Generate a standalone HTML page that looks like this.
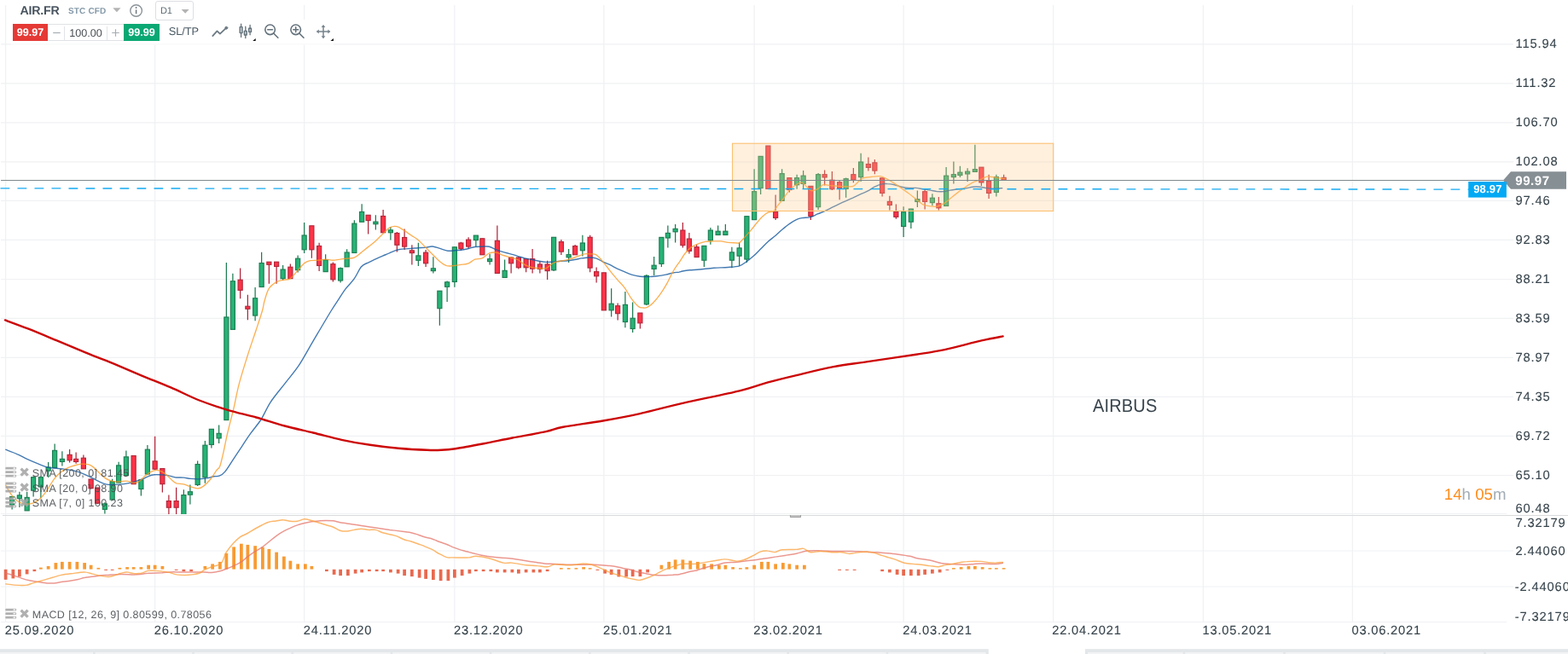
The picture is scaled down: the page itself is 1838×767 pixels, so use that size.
<!DOCTYPE html>
<html lang="en">
<head>
<meta charset="utf-8">
<title>AIR.FR chart</title>
<style>
html,body{margin:0;padding:0;background:#fff;}
body{width:1838px;height:767px;overflow:hidden;position:relative;font-family:"Liberation Sans",Arial,sans-serif;text-rendering:geometricPrecision;}
svg text{text-rendering:geometricPrecision;}
svg.chart{position:absolute;left:0;top:0;display:block;}
.tb{position:absolute;left:13px;top:0;width:378px;height:51px;}
.tb .bg1{position:absolute;left:0;top:0;width:214px;height:24px;background:#fff;}
.tb .bg2{position:absolute;left:0;top:23px;width:378px;height:27.5px;background:#fff;}
.tb .bg3{position:absolute;left:0;top:50.5px;width:378px;height:2.5px;background:rgba(255,255,255,0.55);}
.tb *{box-sizing:border-box;}
.sym{position:absolute;left:10.6px;top:4.9px;font-weight:bold;font-size:14.2px;line-height:16px;color:#48545f;letter-spacing:-0.25px;white-space:nowrap;}
.typ{position:absolute;left:67px;top:7.5px;font-weight:bold;font-size:10px;line-height:12px;color:#8499a9;letter-spacing:0.15px;white-space:nowrap;}
.per{position:absolute;left:169px;top:1px;width:45px;height:23px;border:1px solid #dcdfe2;border-radius:3px;background:#fff;}
.per span{position:absolute;left:5px;top:4.6px;font-size:11px;line-height:13px;color:#5a6872;white-space:nowrap;letter-spacing:-0.3px;}
.sell,.buy{position:absolute;top:28px;height:20px;width:41px;color:#fff;font-weight:bold;font-size:12.6px;line-height:20px;text-align:center;white-space:nowrap;}
.sell{left:2px;background:#e53935;}
.buy{left:132px;width:42px;background:#0aa873;}
.vol{position:absolute;left:43px;top:28px;width:89px;height:20px;border-top:1px solid #dfe2e5;border-bottom:1px solid #dfe2e5;background:#fff;}
.vol .m,.vol .p{position:absolute;top:0;height:18px;width:20px;}
.vol .m{left:0;}
.vol .m:after,.vol .p:after{content:'';position:absolute;top:1.5px;bottom:0;width:1px;background:#e1e4e7;}
.vol .m:after{right:0;}
.vol .p:after{left:0;}
.vol .p{right:0;}
.vol .v{position:absolute;left:20px;right:20px;top:0;height:18px;font-size:12.6px;line-height:20px;text-align:center;color:#4a4f54;white-space:nowrap;}
.sltp{position:absolute;left:184.8px;top:28.6px;font-size:12.8px;line-height:15px;color:#4a5963;white-space:nowrap;letter-spacing:-0.1px;}
.ico{position:absolute;left:0;top:0;}
</style>
</head>
<body>
<svg class="chart" width="1838" height="767" viewBox="0 0 1838 767">
<defs><clipPath id="cm"><rect x="0" y="6" width="1838" height="597"/></clipPath><clipPath id="cd"><rect x="0" y="605" width="1838" height="125"/></clipPath></defs>
<g stroke="#f0f1f4" stroke-width="1.2" fill="none" shape-rendering="auto">
<line x1="6.625" y1="6" x2="6.625" y2="730" stroke-width="1.25"/>
<line x1="181.625" y1="6" x2="181.625" y2="730" stroke-width="1.25"/>
<line x1="356.625" y1="6" x2="356.625" y2="730" stroke-width="1.25"/>
<line x1="532.875" y1="6" x2="532.875" y2="730" stroke-width="1.25"/>
<line x1="707.875" y1="6" x2="707.875" y2="730" stroke-width="1.25"/>
<line x1="884.125" y1="6" x2="884.125" y2="730" stroke-width="1.25"/>
<line x1="1059.125" y1="6" x2="1059.125" y2="730" stroke-width="1.25"/>
<line x1="1234.700" y1="6" x2="1234.700" y2="730" stroke-width="1.25"/>
<line x1="1410.375" y1="6" x2="1410.375" y2="730" stroke-width="1.25"/>
<line x1="1585.375" y1="6" x2="1585.375" y2="730" stroke-width="1.25"/>
<line x1="1" y1="51.9" x2="1774" y2="51.9" stroke-width="1.15"/>
<line x1="1" y1="97.9" x2="1774" y2="97.9" stroke-width="1.15"/>
<line x1="1" y1="143.9" x2="1774" y2="143.9" stroke-width="1.15"/>
<line x1="1" y1="189.9" x2="1774" y2="189.9" stroke-width="1.15"/>
<line x1="1" y1="235.4" x2="1774" y2="235.4" stroke-width="1.15"/>
<line x1="1" y1="281.4" x2="1774" y2="281.4" stroke-width="1.15"/>
<line x1="1" y1="327.5" x2="1774" y2="327.5" stroke-width="1.15"/>
<line x1="1" y1="373.4" x2="1774" y2="373.4" stroke-width="1.15"/>
<line x1="1" y1="419.3" x2="1774" y2="419.3" stroke-width="1.15"/>
<line x1="1" y1="465.3" x2="1774" y2="465.3" stroke-width="1.15"/>
<line x1="1" y1="511.3" x2="1774" y2="511.3" stroke-width="1.15"/>
<line x1="1" y1="557.5" x2="1774" y2="557.5" stroke-width="1.15"/>
<line x1="1" y1="602.4" x2="1766.5" y2="602.4" stroke-width="1"/>
<line x1="1" y1="646" x2="1774" y2="646" stroke-width="1.05"/>
<line x1="1" y1="688" x2="1774" y2="688" stroke-width="1.05"/>
<line x1="1" y1="729.5" x2="1766.2" y2="729.5" stroke-width="1.05"/>
</g>
<line x1="3" y1="604.5" x2="1838" y2="604.5" stroke="#dadbdc" stroke-width="1"/>
<rect x="926.1" y="604" width="12.75" height="2.8" fill="#c2c2c2"/>
<path d="M926.4 604V606.5H938.55V604" fill="none" stroke="#8c8c8c" stroke-width="0.7"/>
<g clip-path="url(#cm)">
<path d="M14.125 581.8V597.6" stroke="#1d7d52" stroke-width="1.25" fill="none"/>
<rect x="11.575" y="582.57" width="5.1" height="9.61" fill="#27b376" stroke="#1d7d52" stroke-width="1.15"/>
<path d="M22.875 576.8V595.1" stroke="#1d7d52" stroke-width="1.25" fill="none"/>
<rect x="20.325" y="580.90" width="5.1" height="3.77" fill="#27b376" stroke="#1d7d52" stroke-width="1.15"/>
<path d="M31.625 577.1V598.8" stroke="#1d7d52" stroke-width="1.25" fill="none"/>
<rect x="29.075" y="583.40" width="5.1" height="15.45" fill="#27b376" stroke="#1d7d52" stroke-width="1.15"/>
<path d="M39.125 558.4V582.6" stroke="#1d7d52" stroke-width="1.25" fill="none"/>
<rect x="36.575" y="559.71" width="5.1" height="15.45" fill="#27b376" stroke="#1d7d52" stroke-width="1.15"/>
<path d="M47.875 558.4V584.3" stroke="#1d7d52" stroke-width="1.25" fill="none"/>
<rect x="45.325" y="559.71" width="5.1" height="11.28" fill="#27b376" stroke="#1d7d52" stroke-width="1.15"/>
<path d="M56.625 542.1V560.1" stroke="#1d7d52" stroke-width="1.25" fill="none"/>
<rect x="54.075" y="548.03" width="5.1" height="4.10" fill="#27b376" stroke="#1d7d52" stroke-width="1.15"/>
<path d="M64.125 520.5V548.4" stroke="#1d7d52" stroke-width="1.25" fill="none"/>
<rect x="61.575" y="528.34" width="5.1" height="20.12" fill="#27b376" stroke="#1d7d52" stroke-width="1.15"/>
<path d="M72.875 529.2V546.4" stroke="#1d7d52" stroke-width="1.25" fill="none"/>
<rect x="70.325" y="538.35" width="5.1" height="3.10" fill="#27b376" stroke="#1d7d52" stroke-width="1.15"/>
<path d="M81.625 527.1V542.6" stroke="#b2263a" stroke-width="1.25" fill="none"/>
<rect x="79.075" y="533.35" width="5.1" height="6.44" fill="#ff3347" stroke="#b2263a" stroke-width="1.15"/>
<path d="M89.125 530.6V543.7" stroke="#b2263a" stroke-width="1.25" fill="none"/>
<rect x="86.575" y="538.35" width="5.1" height="3.10" fill="#ff3347" stroke="#b2263a" stroke-width="1.15"/>
<path d="M97.875 533.4V549.7" stroke="#b2263a" stroke-width="1.25" fill="none"/>
<rect x="95.325" y="537.18" width="5.1" height="12.61" fill="#ff3347" stroke="#b2263a" stroke-width="1.15"/>
<path d="M106.625 561.8V573.4" stroke="#b2263a" stroke-width="1.25" fill="none"/>
<rect x="104.075" y="562.05" width="5.1" height="10.61" fill="#ff3347" stroke="#b2263a" stroke-width="1.15"/>
<path d="M114.125 571.8V591" stroke="#b2263a" stroke-width="1.25" fill="none"/>
<rect x="111.575" y="572.06" width="5.1" height="18.12" fill="#ff3347" stroke="#b2263a" stroke-width="1.15"/>
<path d="M122.875 589.3V602.6" stroke="#1d7d52" stroke-width="1.25" fill="none"/>
<rect x="120.325" y="590.91" width="5.1" height="6.44" fill="#27b376" stroke="#1d7d52" stroke-width="1.15"/>
<path d="M131.625 561.8V586.8" stroke="#1d7d52" stroke-width="1.25" fill="none"/>
<rect x="129.075" y="564.72" width="5.1" height="21.29" fill="#27b376" stroke="#1d7d52" stroke-width="1.15"/>
<path d="M139.125 541.7V565.9" stroke="#1d7d52" stroke-width="1.25" fill="none"/>
<rect x="136.575" y="545.86" width="5.1" height="20.12" fill="#27b376" stroke="#1d7d52" stroke-width="1.15"/>
<path d="M147.875 528.4V558.4" stroke="#1d7d52" stroke-width="1.25" fill="none"/>
<rect x="145.325" y="535.85" width="5.1" height="21.79" fill="#27b376" stroke="#1d7d52" stroke-width="1.15"/>
<path d="M156.625 534.2V567.6" stroke="#b2263a" stroke-width="1.25" fill="none"/>
<rect x="154.075" y="534.51" width="5.1" height="33.14" fill="#ff3347" stroke="#b2263a" stroke-width="1.15"/>
<path d="M165.375 562.6V581.5" stroke="#1d7d52" stroke-width="1.25" fill="none"/>
<rect x="162.825" y="562.88" width="5.1" height="10.61" fill="#27b376" stroke="#1d7d52" stroke-width="1.15"/>
<path d="M172.875 522V556.8" stroke="#1d7d52" stroke-width="1.25" fill="none"/>
<rect x="170.325" y="527.17" width="5.1" height="28.80" fill="#27b376" stroke="#1d7d52" stroke-width="1.15"/>
<path d="M181.625 511.7V550.9" stroke="#b2263a" stroke-width="1.25" fill="none"/>
<rect x="179.075" y="540.85" width="5.1" height="9.28" fill="#ff3347" stroke="#b2263a" stroke-width="1.15"/>
<path d="M190.375 549.2V577.6" stroke="#b2263a" stroke-width="1.25" fill="none"/>
<rect x="187.825" y="549.53" width="5.1" height="18.12" fill="#ff3347" stroke="#b2263a" stroke-width="1.15"/>
<path d="M197.875 580.6V606.8" stroke="#b2263a" stroke-width="1.25" fill="none"/>
<rect x="195.325" y="587.58" width="5.1" height="7.61" fill="#ff3347" stroke="#b2263a" stroke-width="1.15"/>
<path d="M206.625 571.8V606.8" stroke="#b2263a" stroke-width="1.25" fill="none"/>
<rect x="204.075" y="587.58" width="5.1" height="7.61" fill="#ff3347" stroke="#b2263a" stroke-width="1.15"/>
<path d="M215.375 574.3V606.8" stroke="#1d7d52" stroke-width="1.25" fill="none"/>
<rect x="212.825" y="580.57" width="5.1" height="26.30" fill="#27b376" stroke="#1d7d52" stroke-width="1.15"/>
<path d="M222.875 568.4V591.5" stroke="#1d7d52" stroke-width="1.25" fill="none"/>
<rect x="220.325" y="576.73" width="5.1" height="3.44" fill="#27b376" stroke="#1d7d52" stroke-width="1.15"/>
<path d="M231.625 540.4V570.1" stroke="#1d7d52" stroke-width="1.25" fill="none"/>
<rect x="229.075" y="544.53" width="5.1" height="23.96" fill="#27b376" stroke="#1d7d52" stroke-width="1.15"/>
<path d="M240.375 517V566.8" stroke="#1d7d52" stroke-width="1.25" fill="none"/>
<rect x="237.825" y="522.17" width="5.1" height="37.64" fill="#27b376" stroke="#1d7d52" stroke-width="1.15"/>
<path d="M247.875 503.4V525.4" stroke="#1d7d52" stroke-width="1.25" fill="none"/>
<rect x="245.325" y="503.31" width="5.1" height="18.12" fill="#27b376" stroke="#1d7d52" stroke-width="1.15"/>
<path d="M256.625 498.4V520" stroke="#1d7d52" stroke-width="1.25" fill="none"/>
<rect x="254.075" y="508.32" width="5.1" height="5.61" fill="#27b376" stroke="#1d7d52" stroke-width="1.15"/>
<path d="M265.375 308V492.5" stroke="#1d7d52" stroke-width="1.25" fill="none"/>
<rect x="262.825" y="371.95" width="5.1" height="120.60" fill="#27b376" stroke="#1d7d52" stroke-width="1.15"/>
<path d="M272.875 320.8V386.3" stroke="#1d7d52" stroke-width="1.25" fill="none"/>
<rect x="270.325" y="329.75" width="5.1" height="56.60" fill="#27b376" stroke="#1d7d52" stroke-width="1.15"/>
<path d="M281.625 314.4V350.3" stroke="#b2263a" stroke-width="1.25" fill="none"/>
<rect x="279.075" y="328.22" width="5.1" height="12.11" fill="#ff3347" stroke="#b2263a" stroke-width="1.15"/>
<path d="M290.375 345.8V375.3" stroke="#b2263a" stroke-width="1.25" fill="none"/>
<rect x="287.825" y="359.25" width="5.1" height="3.00" fill="#ff3347" stroke="#b2263a" stroke-width="1.15"/>
<path d="M299.125 337V376.3" stroke="#1d7d52" stroke-width="1.25" fill="none"/>
<rect x="296.575" y="349.75" width="5.1" height="20.30" fill="#27b376" stroke="#1d7d52" stroke-width="1.15"/>
<path d="M306.625 295.7V336.5" stroke="#1d7d52" stroke-width="1.25" fill="none"/>
<rect x="304.075" y="308.53" width="5.1" height="27.97" fill="#27b376" stroke="#1d7d52" stroke-width="1.15"/>
<path d="M315.375 307.2V332.8" stroke="#b2263a" stroke-width="1.25" fill="none"/>
<rect x="312.825" y="307.20" width="5.1" height="3.10" fill="#ff3347" stroke="#b2263a" stroke-width="1.15"/>
<path d="M324.125 307.2V332.8" stroke="#b2263a" stroke-width="1.25" fill="none"/>
<rect x="321.575" y="307.20" width="5.1" height="5.27" fill="#ff3347" stroke="#b2263a" stroke-width="1.15"/>
<path d="M331.625 311.1V329.1" stroke="#1d7d52" stroke-width="1.25" fill="none"/>
<rect x="329.075" y="316.04" width="5.1" height="10.61" fill="#27b376" stroke="#1d7d52" stroke-width="1.15"/>
<path d="M340.375 309.4V326.9" stroke="#b2263a" stroke-width="1.25" fill="none"/>
<rect x="337.825" y="313.21" width="5.1" height="13.45" fill="#ff3347" stroke="#b2263a" stroke-width="1.15"/>
<path d="M349.125 299.4V319.4" stroke="#1d7d52" stroke-width="1.25" fill="none"/>
<rect x="346.575" y="303.20" width="5.1" height="13.45" fill="#27b376" stroke="#1d7d52" stroke-width="1.15"/>
<path d="M356.625 261V296.9" stroke="#1d7d52" stroke-width="1.25" fill="none"/>
<rect x="354.075" y="276.00" width="5.1" height="16.79" fill="#27b376" stroke="#1d7d52" stroke-width="1.15"/>
<path d="M365.375 264.9V302.7" stroke="#b2263a" stroke-width="1.25" fill="none"/>
<rect x="362.825" y="264.82" width="5.1" height="27.97" fill="#ff3347" stroke="#b2263a" stroke-width="1.15"/>
<path d="M374.125 284.7V318.1" stroke="#b2263a" stroke-width="1.25" fill="none"/>
<rect x="371.575" y="288.51" width="5.1" height="22.96" fill="#ff3347" stroke="#b2263a" stroke-width="1.15"/>
<path d="M381.625 298.2V318.9" stroke="#1d7d52" stroke-width="1.25" fill="none"/>
<rect x="379.075" y="304.86" width="5.1" height="13.78" fill="#27b376" stroke="#1d7d52" stroke-width="1.15"/>
<path d="M390.375 307.4V330.6" stroke="#b2263a" stroke-width="1.25" fill="none"/>
<rect x="387.825" y="309.70" width="5.1" height="18.12" fill="#ff3347" stroke="#b2263a" stroke-width="1.15"/>
<path d="M399.125 313.6V331.6" stroke="#1d7d52" stroke-width="1.25" fill="none"/>
<rect x="396.575" y="314.71" width="5.1" height="14.28" fill="#27b376" stroke="#1d7d52" stroke-width="1.15"/>
<path d="M406.625 292.2V313.1" stroke="#1d7d52" stroke-width="1.25" fill="none"/>
<rect x="404.075" y="296.02" width="5.1" height="16.79" fill="#27b376" stroke="#1d7d52" stroke-width="1.15"/>
<path d="M415.375 258.2V296.9" stroke="#1d7d52" stroke-width="1.25" fill="none"/>
<rect x="412.825" y="262.15" width="5.1" height="34.31" fill="#27b376" stroke="#1d7d52" stroke-width="1.15"/>
<path d="M424.125 239.3V260.5" stroke="#1d7d52" stroke-width="1.25" fill="none"/>
<rect x="421.575" y="248.46" width="5.1" height="11.78" fill="#27b376" stroke="#1d7d52" stroke-width="1.15"/>
<path d="M431.625 252.4V274.4" stroke="#b2263a" stroke-width="1.25" fill="none"/>
<rect x="429.075" y="252.30" width="5.1" height="6.27" fill="#ff3347" stroke="#b2263a" stroke-width="1.15"/>
<path d="M440.375 252.2V269.4" stroke="#1d7d52" stroke-width="1.25" fill="none"/>
<rect x="437.825" y="260.14" width="5.1" height="2.60" fill="#27b376" stroke="#1d7d52" stroke-width="1.15"/>
<path d="M449.125 246V273.5" stroke="#b2263a" stroke-width="1.25" fill="none"/>
<rect x="446.575" y="253.47" width="5.1" height="19.29" fill="#ff3347" stroke="#b2263a" stroke-width="1.15"/>
<path d="M457.875 266V281.6" stroke="#1d7d52" stroke-width="1.25" fill="none"/>
<rect x="455.325" y="269.82" width="5.1" height="2.94" fill="#27b376" stroke="#1d7d52" stroke-width="1.15"/>
<path d="M465.375 271.9V295.6" stroke="#b2263a" stroke-width="1.25" fill="none"/>
<rect x="462.825" y="273.49" width="5.1" height="13.78" fill="#ff3347" stroke="#b2263a" stroke-width="1.15"/>
<path d="M474.125 268.5V293.1" stroke="#b2263a" stroke-width="1.25" fill="none"/>
<rect x="471.575" y="278.50" width="5.1" height="10.61" fill="#ff3347" stroke="#b2263a" stroke-width="1.15"/>
<path d="M482.875 287.2V310.6" stroke="#b2263a" stroke-width="1.25" fill="none"/>
<rect x="480.325" y="293.85" width="5.1" height="2.77" fill="#ff3347" stroke="#b2263a" stroke-width="1.15"/>
<path d="M490.375 284.7V311.9" stroke="#1d7d52" stroke-width="1.25" fill="none"/>
<rect x="487.825" y="299.86" width="5.1" height="5.44" fill="#27b376" stroke="#1d7d52" stroke-width="1.15"/>
<path d="M499.125 292.9V312.9" stroke="#b2263a" stroke-width="1.25" fill="none"/>
<rect x="496.575" y="296.16" width="5.1" height="12.61" fill="#ff3347" stroke="#b2263a" stroke-width="1.15"/>
<path d="M507.875 301.2V320.4" stroke="#1d7d52" stroke-width="1.25" fill="none"/>
<rect x="505.325" y="314.85" width="5.1" height="2.77" fill="#27b376" stroke="#1d7d52" stroke-width="1.15"/>
<path d="M515.375 340.9V381.8" stroke="#1d7d52" stroke-width="1.25" fill="none"/>
<rect x="512.825" y="341.21" width="5.1" height="20.46" fill="#27b376" stroke="#1d7d52" stroke-width="1.15"/>
<path d="M524.125 329.6V354.1" stroke="#1d7d52" stroke-width="1.25" fill="none"/>
<rect x="521.575" y="330.86" width="5.1" height="5.44" fill="#27b376" stroke="#1d7d52" stroke-width="1.15"/>
<path d="M532.875 289.5V336.8" stroke="#1d7d52" stroke-width="1.25" fill="none"/>
<rect x="530.325" y="289.82" width="5.1" height="40.65" fill="#27b376" stroke="#1d7d52" stroke-width="1.15"/>
<path d="M540.375 283.7V293.7" stroke="#b2263a" stroke-width="1.25" fill="none"/>
<rect x="537.825" y="284.98" width="5.1" height="6.77" fill="#ff3347" stroke="#b2263a" stroke-width="1.15"/>
<path d="M549.125 278.2V291.5" stroke="#b2263a" stroke-width="1.25" fill="none"/>
<rect x="546.575" y="281.14" width="5.1" height="7.94" fill="#ff3347" stroke="#b2263a" stroke-width="1.15"/>
<path d="M557.875 276.2V289.5" stroke="#1d7d52" stroke-width="1.25" fill="none"/>
<rect x="555.325" y="276.13" width="5.1" height="5.44" fill="#27b376" stroke="#1d7d52" stroke-width="1.15"/>
<path d="M565.375 279.5V299" stroke="#b2263a" stroke-width="1.25" fill="none"/>
<rect x="562.825" y="279.80" width="5.1" height="18.96" fill="#ff3347" stroke="#b2263a" stroke-width="1.15"/>
<path d="M574.125 297.9V310.4" stroke="#1d7d52" stroke-width="1.25" fill="none"/>
<rect x="571.575" y="303.67" width="5.1" height="2.94" fill="#27b376" stroke="#1d7d52" stroke-width="1.15"/>
<path d="M582.875 264.5V320.4" stroke="#b2263a" stroke-width="1.25" fill="none"/>
<rect x="580.325" y="282.31" width="5.1" height="38.14" fill="#ff3347" stroke="#b2263a" stroke-width="1.15"/>
<path d="M591.625 304.5V325.4" stroke="#1d7d52" stroke-width="1.25" fill="none"/>
<rect x="589.075" y="317.35" width="5.1" height="8.11" fill="#27b376" stroke="#1d7d52" stroke-width="1.15"/>
<path d="M599.125 301.2V320.4" stroke="#b2263a" stroke-width="1.25" fill="none"/>
<rect x="596.575" y="302.00" width="5.1" height="6.77" fill="#ff3347" stroke="#b2263a" stroke-width="1.15"/>
<path d="M607.875 300.9V315.4" stroke="#b2263a" stroke-width="1.25" fill="none"/>
<rect x="605.325" y="302.00" width="5.1" height="11.78" fill="#ff3347" stroke="#b2263a" stroke-width="1.15"/>
<path d="M616.625 302.9V319.2" stroke="#b2263a" stroke-width="1.25" fill="none"/>
<rect x="614.075" y="303.67" width="5.1" height="10.11" fill="#ff3347" stroke="#b2263a" stroke-width="1.15"/>
<path d="M624.125 292V320.4" stroke="#b2263a" stroke-width="1.25" fill="none"/>
<rect x="621.575" y="303.67" width="5.1" height="11.45" fill="#ff3347" stroke="#b2263a" stroke-width="1.15"/>
<path d="M632.875 306.2V320.4" stroke="#b2263a" stroke-width="1.25" fill="none"/>
<rect x="630.325" y="310.01" width="5.1" height="5.44" fill="#ff3347" stroke="#b2263a" stroke-width="1.15"/>
<path d="M641.625 305.7V327.9" stroke="#b2263a" stroke-width="1.25" fill="none"/>
<rect x="639.075" y="310.01" width="5.1" height="7.61" fill="#ff3347" stroke="#b2263a" stroke-width="1.15"/>
<path d="M649.125 278.4V317.9" stroke="#1d7d52" stroke-width="1.25" fill="none"/>
<rect x="646.575" y="278.30" width="5.1" height="38.48" fill="#27b376" stroke="#1d7d52" stroke-width="1.15"/>
<path d="M657.875 280.9V299" stroke="#b2263a" stroke-width="1.25" fill="none"/>
<rect x="655.325" y="283.64" width="5.1" height="11.45" fill="#ff3347" stroke="#b2263a" stroke-width="1.15"/>
<path d="M666.625 292V307.9" stroke="#1d7d52" stroke-width="1.25" fill="none"/>
<rect x="664.075" y="298.66" width="5.1" height="3.10" fill="#27b376" stroke="#1d7d52" stroke-width="1.15"/>
<path d="M674.125 287V299" stroke="#b2263a" stroke-width="1.25" fill="none"/>
<rect x="671.575" y="288.65" width="5.1" height="10.11" fill="#ff3347" stroke="#b2263a" stroke-width="1.15"/>
<path d="M682.875 275.8V300.4" stroke="#1d7d52" stroke-width="1.25" fill="none"/>
<rect x="680.325" y="284.98" width="5.1" height="8.78" fill="#27b376" stroke="#1d7d52" stroke-width="1.15"/>
<path d="M691.625 275.8V319.2" stroke="#b2263a" stroke-width="1.25" fill="none"/>
<rect x="689.075" y="278.30" width="5.1" height="35.81" fill="#ff3347" stroke="#b2263a" stroke-width="1.15"/>
<path d="M699.125 313.4V331.6" stroke="#b2263a" stroke-width="1.25" fill="none"/>
<rect x="696.575" y="318.68" width="5.1" height="5.11" fill="#ff3347" stroke="#b2263a" stroke-width="1.15"/>
<path d="M707.875 319.6V363.8" stroke="#b2263a" stroke-width="1.25" fill="none"/>
<rect x="705.325" y="319.85" width="5.1" height="43.98" fill="#ff3347" stroke="#b2263a" stroke-width="1.15"/>
<path d="M716.625 338.3V371.6" stroke="#1d7d52" stroke-width="1.25" fill="none"/>
<rect x="714.075" y="356.23" width="5.1" height="7.61" fill="#27b376" stroke="#1d7d52" stroke-width="1.15"/>
<path d="M724.125 355.4V375.5" stroke="#b2263a" stroke-width="1.25" fill="none"/>
<rect x="721.575" y="358.73" width="5.1" height="8.94" fill="#ff3347" stroke="#b2263a" stroke-width="1.15"/>
<path d="M732.875 342.1V384.3" stroke="#1d7d52" stroke-width="1.25" fill="none"/>
<rect x="730.325" y="357.39" width="5.1" height="20.12" fill="#27b376" stroke="#1d7d52" stroke-width="1.15"/>
<path d="M741.625 354.6V390" stroke="#1d7d52" stroke-width="1.25" fill="none"/>
<rect x="739.075" y="373.25" width="5.1" height="12.28" fill="#27b376" stroke="#1d7d52" stroke-width="1.15"/>
<path d="M750.375 367.1V385.5" stroke="#b2263a" stroke-width="1.25" fill="none"/>
<rect x="747.825" y="367.07" width="5.1" height="11.78" fill="#ff3347" stroke="#b2263a" stroke-width="1.15"/>
<path d="M757.875 322.1V357.9" stroke="#1d7d52" stroke-width="1.25" fill="none"/>
<rect x="755.325" y="323.35" width="5.1" height="33.47" fill="#27b376" stroke="#1d7d52" stroke-width="1.15"/>
<path d="M766.625 300.9V322.9" stroke="#1d7d52" stroke-width="1.25" fill="none"/>
<rect x="764.075" y="311.17" width="5.1" height="4.27" fill="#27b376" stroke="#1d7d52" stroke-width="1.15"/>
<path d="M775.375 278.1V313" stroke="#1d7d52" stroke-width="1.25" fill="none"/>
<rect x="772.825" y="278.39" width="5.1" height="30.97" fill="#27b376" stroke="#1d7d52" stroke-width="1.15"/>
<path d="M782.875 264.6V290.6" stroke="#1d7d52" stroke-width="1.25" fill="none"/>
<rect x="780.325" y="273.38" width="5.1" height="5.61" fill="#27b376" stroke="#1d7d52" stroke-width="1.15"/>
<path d="M791.625 263.1V284.6" stroke="#1d7d52" stroke-width="1.25" fill="none"/>
<rect x="789.075" y="268.37" width="5.1" height="3.44" fill="#27b376" stroke="#1d7d52" stroke-width="1.15"/>
<path d="M800.375 260.9V290.6" stroke="#b2263a" stroke-width="1.25" fill="none"/>
<rect x="797.825" y="270.04" width="5.1" height="17.62" fill="#ff3347" stroke="#b2263a" stroke-width="1.15"/>
<path d="M807.875 273.1V297.6" stroke="#b2263a" stroke-width="1.25" fill="none"/>
<rect x="805.325" y="280.06" width="5.1" height="14.28" fill="#ff3347" stroke="#b2263a" stroke-width="1.15"/>
<path d="M816.625 286.8V301.5" stroke="#b2263a" stroke-width="1.25" fill="none"/>
<rect x="814.075" y="289.73" width="5.1" height="11.78" fill="#ff3347" stroke="#b2263a" stroke-width="1.15"/>
<path d="M825.375 288.1V313" stroke="#1d7d52" stroke-width="1.25" fill="none"/>
<rect x="822.825" y="288.40" width="5.1" height="16.79" fill="#27b376" stroke="#1d7d52" stroke-width="1.15"/>
<path d="M832.875 267.1V286.8" stroke="#1d7d52" stroke-width="1.25" fill="none"/>
<rect x="830.325" y="270.04" width="5.1" height="11.78" fill="#27b376" stroke="#1d7d52" stroke-width="1.15"/>
<path d="M841.625 264.6V275.4" stroke="#1d7d52" stroke-width="1.25" fill="none"/>
<rect x="839.075" y="271.21" width="5.1" height="4.27" fill="#27b376" stroke="#1d7d52" stroke-width="1.15"/>
<path d="M850.375 263.1V275.4" stroke="#1d7d52" stroke-width="1.25" fill="none"/>
<rect x="847.825" y="271.21" width="5.1" height="4.27" fill="#27b376" stroke="#1d7d52" stroke-width="1.15"/>
<path d="M857.875 289.8V314.3" stroke="#1d7d52" stroke-width="1.25" fill="none"/>
<rect x="855.325" y="295.91" width="5.1" height="9.28" fill="#27b376" stroke="#1d7d52" stroke-width="1.15"/>
<path d="M866.625 284.6V311.8" stroke="#1d7d52" stroke-width="1.25" fill="none"/>
<rect x="864.075" y="290.90" width="5.1" height="9.28" fill="#27b376" stroke="#1d7d52" stroke-width="1.15"/>
<path d="M875.375 253.4V308" stroke="#1d7d52" stroke-width="1.25" fill="none"/>
<rect x="872.825" y="253.69" width="5.1" height="50.33" fill="#27b376" stroke="#1d7d52" stroke-width="1.15"/>
<path d="M884.125 198.3V257.6" stroke="#1d7d52" stroke-width="1.25" fill="none"/>
<rect x="881.575" y="224.66" width="5.1" height="32.97" fill="#27b376" stroke="#1d7d52" stroke-width="1.15"/>
<path d="M891.625 183.4V228.1" stroke="#1d7d52" stroke-width="1.25" fill="none"/>
<rect x="889.075" y="183.35" width="5.1" height="37.20" fill="#27b376" stroke="#1d7d52" stroke-width="1.15"/>
<path d="M900.375 171.1V221.4" stroke="#b2263a" stroke-width="1.25" fill="none"/>
<rect x="897.825" y="171.05" width="5.1" height="50.40" fill="#ff3347" stroke="#b2263a" stroke-width="1.15"/>
<path d="M909.125 228.4V258.1" stroke="#b2263a" stroke-width="1.25" fill="none"/>
<rect x="906.575" y="248.35" width="5.1" height="7.11" fill="#ff3347" stroke="#b2263a" stroke-width="1.15"/>
<path d="M916.625 198.3V235.4" stroke="#1d7d52" stroke-width="1.25" fill="none"/>
<rect x="914.075" y="203.63" width="5.1" height="31.80" fill="#27b376" stroke="#1d7d52" stroke-width="1.15"/>
<path d="M925.375 208.4V225.5" stroke="#b2263a" stroke-width="1.25" fill="none"/>
<rect x="922.825" y="208.64" width="5.1" height="13.95" fill="#ff3347" stroke="#b2263a" stroke-width="1.15"/>
<path d="M934.125 204.7V221.7" stroke="#1d7d52" stroke-width="1.25" fill="none"/>
<rect x="931.575" y="208.64" width="5.1" height="8.11" fill="#27b376" stroke="#1d7d52" stroke-width="1.15"/>
<path d="M941.625 200V220.9" stroke="#1d7d52" stroke-width="1.25" fill="none"/>
<rect x="939.075" y="206.14" width="5.1" height="9.28" fill="#27b376" stroke="#1d7d52" stroke-width="1.15"/>
<path d="M950.375 218.4V258.1" stroke="#b2263a" stroke-width="1.25" fill="none"/>
<rect x="947.825" y="218.35" width="5.1" height="35.14" fill="#ff3347" stroke="#b2263a" stroke-width="1.15"/>
<path d="M959.125 203.1V245.9" stroke="#1d7d52" stroke-width="1.25" fill="none"/>
<rect x="956.575" y="204.67" width="5.1" height="37.98" fill="#27b376" stroke="#1d7d52" stroke-width="1.15"/>
<path d="M966.625 199.5V217.6" stroke="#b2263a" stroke-width="1.25" fill="none"/>
<rect x="964.075" y="204.67" width="5.1" height="3.27" fill="#ff3347" stroke="#b2263a" stroke-width="1.15"/>
<path d="M975.375 200.9V223.1" stroke="#b2263a" stroke-width="1.25" fill="none"/>
<rect x="972.825" y="211.18" width="5.1" height="10.61" fill="#ff3347" stroke="#b2263a" stroke-width="1.15"/>
<path d="M984.125 210.9V234.3" stroke="#b2263a" stroke-width="1.25" fill="none"/>
<rect x="981.575" y="213.68" width="5.1" height="6.77" fill="#ff3347" stroke="#b2263a" stroke-width="1.15"/>
<path d="M991.625 208.4V231.8" stroke="#1d7d52" stroke-width="1.25" fill="none"/>
<rect x="989.075" y="209.67" width="5.1" height="11.78" fill="#27b376" stroke="#1d7d52" stroke-width="1.15"/>
<path d="M1000.375 197V214.2" stroke="#b2263a" stroke-width="1.25" fill="none"/>
<rect x="997.825" y="204.67" width="5.1" height="6.27" fill="#ff3347" stroke="#b2263a" stroke-width="1.15"/>
<path d="M1009.125 179.7V213.1" stroke="#1d7d52" stroke-width="1.25" fill="none"/>
<rect x="1006.575" y="189.99" width="5.1" height="17.62" fill="#27b376" stroke="#1d7d52" stroke-width="1.15"/>
<path d="M1017.875 184.5V200.4" stroke="#b2263a" stroke-width="1.25" fill="none"/>
<rect x="1015.325" y="192.49" width="5.1" height="3.94" fill="#ff3347" stroke="#b2263a" stroke-width="1.15"/>
<path d="M1025.375 187V204.2" stroke="#b2263a" stroke-width="1.25" fill="none"/>
<rect x="1022.825" y="190.82" width="5.1" height="9.28" fill="#ff3347" stroke="#b2263a" stroke-width="1.15"/>
<path d="M1034.125 208.7V230.6" stroke="#b2263a" stroke-width="1.25" fill="none"/>
<rect x="1031.575" y="208.84" width="5.1" height="17.62" fill="#ff3347" stroke="#b2263a" stroke-width="1.15"/>
<path d="M1042.875 229.7V246.4" stroke="#b2263a" stroke-width="1.25" fill="none"/>
<rect x="1040.325" y="236.37" width="5.1" height="4.10" fill="#ff3347" stroke="#b2263a" stroke-width="1.15"/>
<path d="M1050.375 239.6V256.8" stroke="#b2263a" stroke-width="1.25" fill="none"/>
<rect x="1047.825" y="248.39" width="5.1" height="5.94" fill="#ff3347" stroke="#b2263a" stroke-width="1.15"/>
<path d="M1059.125 242.3V278" stroke="#1d7d52" stroke-width="1.25" fill="none"/>
<rect x="1056.575" y="248.72" width="5.1" height="16.79" fill="#27b376" stroke="#1d7d52" stroke-width="1.15"/>
<path d="M1067.875 244.8V268" stroke="#1d7d52" stroke-width="1.25" fill="none"/>
<rect x="1065.325" y="245.05" width="5.1" height="15.12" fill="#27b376" stroke="#1d7d52" stroke-width="1.15"/>
<path d="M1075.375 223.4V242.9" stroke="#1d7d52" stroke-width="1.25" fill="none"/>
<rect x="1072.825" y="233.70" width="5.1" height="2.77" fill="#27b376" stroke="#1d7d52" stroke-width="1.15"/>
<path d="M1084.125 221.7V245.6" stroke="#b2263a" stroke-width="1.25" fill="none"/>
<rect x="1081.575" y="224.69" width="5.1" height="11.78" fill="#ff3347" stroke="#b2263a" stroke-width="1.15"/>
<path d="M1092.875 227.2V241.3" stroke="#1d7d52" stroke-width="1.25" fill="none"/>
<rect x="1090.325" y="232.20" width="5.1" height="5.44" fill="#27b376" stroke="#1d7d52" stroke-width="1.15"/>
<path d="M1100.375 230.9V246.4" stroke="#b2263a" stroke-width="1.25" fill="none"/>
<rect x="1097.825" y="238.71" width="5.1" height="5.11" fill="#ff3347" stroke="#b2263a" stroke-width="1.15"/>
<path d="M1109.125 195.9V241.4" stroke="#1d7d52" stroke-width="1.25" fill="none"/>
<rect x="1106.575" y="206.17" width="5.1" height="35.31" fill="#27b376" stroke="#1d7d52" stroke-width="1.15"/>
<path d="M1117.875 189.5V215.4" stroke="#1d7d52" stroke-width="1.25" fill="none"/>
<rect x="1115.325" y="204.67" width="5.1" height="2.94" fill="#27b376" stroke="#1d7d52" stroke-width="1.15"/>
<path d="M1125.375 194.7V208.1" stroke="#1d7d52" stroke-width="1.25" fill="none"/>
<rect x="1122.825" y="202.17" width="5.1" height="3.27" fill="#27b376" stroke="#1d7d52" stroke-width="1.15"/>
<path d="M1134.125 197.2V212.9" stroke="#1d7d52" stroke-width="1.25" fill="none"/>
<rect x="1131.575" y="201.16" width="5.1" height="2.77" fill="#27b376" stroke="#1d7d52" stroke-width="1.15"/>
<path d="M1142.875 169.7V201.4" stroke="#1d7d52" stroke-width="1.25" fill="none"/>
<rect x="1140.325" y="198.66" width="5.1" height="2.77" fill="#27b376" stroke="#1d7d52" stroke-width="1.15"/>
<path d="M1150.375 195.9V217.9" stroke="#b2263a" stroke-width="1.25" fill="none"/>
<rect x="1147.825" y="196.16" width="5.1" height="17.79" fill="#ff3347" stroke="#b2263a" stroke-width="1.15"/>
<path d="M1159.125 204.7V232.9" stroke="#b2263a" stroke-width="1.25" fill="none"/>
<rect x="1156.575" y="212.51" width="5.1" height="13.95" fill="#ff3347" stroke="#b2263a" stroke-width="1.15"/>
<path d="M1167.875 204.7V230.6" stroke="#1d7d52" stroke-width="1.25" fill="none"/>
<rect x="1165.325" y="207.51" width="5.1" height="17.95" fill="#27b376" stroke="#1d7d52" stroke-width="1.15"/>
<path d="M1176.625 204.7V211.4" stroke="#b2263a" stroke-width="1.25" fill="none"/>
<rect x="1174.075" y="208.34" width="5.1" height="2.60" fill="#ff3347" stroke="#b2263a" stroke-width="1.15"/>
<path d="M6.3 527.2C8.6 528.1 15.8 530.7 20.0 532.6C24.3 534.4 27.8 536.6 31.7 538.4C35.6 540.2 39.4 541.8 43.4 543.4C47.4 545.0 52.0 547.1 55.9 548.1C59.8 549.1 62.7 548.8 66.7 549.2C70.8 549.7 75.9 550.2 80.1 550.9C84.3 551.6 87.9 552.2 91.8 553.4C95.7 554.7 99.3 556.5 103.5 558.4C107.6 560.4 113.2 563.5 116.8 565.1C120.4 566.7 122.4 567.5 125.1 568.1C127.9 568.7 130.2 568.5 133.5 568.4C136.8 568.4 141.3 568.2 145.2 567.6C149.1 567.0 153.2 566.1 156.8 565.1C160.5 564.1 164.1 562.8 166.9 561.8C169.6 560.7 171.3 559.6 173.5 558.8C175.8 557.9 177.7 557.1 180.2 556.8C182.7 556.4 185.8 556.6 188.6 556.8C191.3 556.9 194.1 557.1 196.9 557.6C199.7 558.1 202.2 559.3 205.2 559.8C208.3 560.2 212.2 559.8 215.3 560.1C218.3 560.4 220.5 561.2 223.6 561.4C226.7 561.7 230.3 561.9 233.6 561.8C236.9 561.6 240.8 561.1 243.6 560.6C246.4 560.1 248.1 559.2 250.3 558.8C252.5 558.3 254.7 559.0 257.0 558.1C259.2 557.2 260.9 556.7 263.6 553.4C266.4 550.1 270.3 543.4 273.7 538.4C277.0 533.4 280.3 528.4 283.7 523.4C287.0 518.4 289.9 513.6 293.7 508.4C297.4 503.1 302.1 498.1 306.0 492.0C309.9 485.9 312.4 478.8 317.0 471.8C321.6 464.8 328.1 457.3 333.7 450.1C339.2 442.9 344.8 436.8 350.4 428.4C355.9 420.1 360.7 410.8 367.0 400.1C373.4 389.3 383.5 372.1 388.5 364.0C393.5 355.8 394.1 355.4 396.9 351.1C399.6 346.9 402.1 342.7 405.2 338.6C408.3 334.6 412.2 331.3 415.2 326.9C418.3 322.6 420.8 316.0 423.6 312.8C426.3 309.6 429.1 309.2 431.9 307.8C434.7 306.3 437.5 305.2 440.2 303.9C443.0 302.7 445.8 301.5 448.6 300.2C451.4 299.0 454.2 297.7 456.9 296.6C459.7 295.4 462.5 294.0 465.3 293.2C468.1 292.5 470.8 292.2 473.6 291.9C476.4 291.6 479.2 291.6 482.0 291.4C484.7 291.2 487.3 290.9 490.0 290.7C492.7 290.5 495.6 290.6 498.3 290.4C501.1 290.1 503.9 288.9 506.7 289.0C509.5 289.2 512.0 290.3 515.0 291.2C518.1 292.1 522.0 293.8 525.0 294.2C528.1 294.6 530.9 293.9 533.4 293.7C535.9 293.5 537.6 293.5 540.1 293.2C542.6 292.9 545.6 292.3 548.4 291.7C551.2 291.1 554.0 289.9 556.7 289.5C559.5 289.1 562.3 289.3 565.1 289.2C567.9 289.1 570.6 288.6 573.4 289.2C576.2 289.8 579.0 291.8 581.8 292.9C584.6 294.0 587.3 294.9 590.1 295.7C592.9 296.5 595.7 297.1 598.5 297.9C601.2 298.7 604.0 299.5 606.8 300.4C609.6 301.2 612.4 302.2 615.1 302.9C617.9 303.6 620.7 304.0 623.5 304.5C626.3 305.1 629.1 305.7 631.8 306.2C634.6 306.7 637.4 307.2 640.2 307.4C643.0 307.5 645.7 307.2 648.5 307.1C651.3 306.9 654.1 306.4 656.9 306.2C659.6 306.0 662.4 306.0 665.2 305.7C668.0 305.4 670.8 305.0 673.5 304.5C676.3 304.1 679.1 303.3 681.9 302.9C684.7 302.5 687.5 302.0 690.2 302.0C693.0 302.0 695.8 302.0 698.6 302.9C701.4 303.7 704.1 305.7 706.9 307.1C709.7 308.4 712.5 309.4 715.3 310.7C718.0 312.1 720.8 313.7 723.6 315.1C726.4 316.4 729.2 317.6 731.9 318.7C734.7 319.9 737.2 321.2 740.3 322.1C743.4 323.0 747.0 323.8 750.3 324.2C753.6 324.7 757.0 324.7 760.3 324.6C763.7 324.5 767.0 324.2 770.3 323.7C773.7 323.3 777.3 322.7 780.3 322.1C783.4 321.5 786.1 320.6 788.7 320.1C791.3 319.6 794.1 319.4 796.0 319.1C797.9 318.7 798.0 318.4 800.0 318.0C802.1 317.6 805.0 317.1 808.4 316.8C811.7 316.5 815.3 316.4 820.1 316.0C824.8 315.6 831.2 314.7 836.7 314.3C842.3 313.9 848.4 313.9 853.4 313.5C858.4 313.1 863.2 312.9 866.8 311.8C870.4 310.7 872.3 308.7 875.1 306.8C877.9 304.9 880.7 302.6 883.5 300.1C886.2 297.6 889.0 294.6 891.8 291.8C894.6 289.0 897.4 285.9 900.2 283.4C902.9 280.9 905.7 279.1 908.5 276.8C911.3 274.4 914.1 271.6 916.8 269.3C919.6 266.9 922.4 264.5 925.2 262.6C928.0 260.6 931.1 258.7 933.5 257.6C936.0 256.4 937.3 256.1 940.0 255.6C942.7 255.1 947.0 255.4 950.0 254.6C953.1 253.8 955.6 252.1 958.4 250.9C961.1 249.8 963.9 248.9 966.7 247.6C969.5 246.4 972.3 244.8 975.0 243.4C977.8 242.0 980.6 240.6 983.4 239.3C986.2 238.0 988.9 236.8 991.7 235.6C994.5 234.3 997.3 233.0 1000.1 231.8C1002.9 230.5 1005.6 229.2 1008.4 227.9C1011.2 226.7 1014.0 225.7 1016.8 224.2C1019.5 222.8 1022.3 220.6 1025.1 219.2C1027.9 217.8 1030.9 216.5 1033.4 215.9C1035.9 215.3 1037.6 215.4 1040.1 215.6C1042.6 215.7 1045.7 216.1 1048.5 216.7C1051.2 217.3 1054.0 218.6 1056.8 219.2C1059.6 219.8 1062.4 220.2 1065.1 220.4C1067.9 220.6 1070.7 220.2 1073.5 220.4C1076.3 220.6 1079.1 221.3 1081.8 221.7C1084.6 222.2 1087.4 222.6 1090.2 223.1C1093.0 223.5 1095.7 224.3 1098.5 224.6C1101.3 224.8 1104.4 224.8 1106.9 224.6C1109.4 224.3 1110.8 223.5 1113.5 223.1C1116.3 222.6 1120.5 222.1 1123.5 221.7C1126.6 221.4 1129.1 221.3 1131.9 220.9C1134.7 220.5 1137.5 219.5 1140.2 219.2C1143.0 219.0 1145.8 219.0 1148.6 219.2C1151.4 219.5 1154.1 220.2 1156.9 220.6C1159.7 220.9 1162.2 221.2 1165.3 221.2C1168.3 221.2 1173.6 220.7 1175.3 220.6" stroke="#14599f" stroke-opacity="0.8" stroke-width="1.4" fill="none" stroke-linejoin="round"/>
<path d="M6.3 568.4C7.5 570.4 10.8 576.8 13.3 580.1C15.9 583.5 18.9 586.7 21.7 588.5C24.5 590.3 27.3 590.7 30.0 591.0C32.8 591.2 35.6 591.1 38.4 590.1C41.2 589.2 43.9 587.6 46.7 585.1C49.5 582.6 52.3 579.0 55.1 575.1C57.8 571.2 60.6 565.4 63.4 561.8C66.2 558.1 69.0 555.6 71.8 553.4C74.5 551.2 77.3 549.7 80.1 548.4C82.9 547.1 85.9 546.3 88.4 545.6C90.9 544.9 92.6 544.4 95.1 544.2C97.6 544.1 101.0 544.0 103.5 544.7C106.0 545.4 107.9 546.7 110.1 548.4C112.4 550.1 114.6 553.0 116.8 555.1C119.0 557.2 121.3 559.5 123.5 560.9C125.7 562.4 127.9 563.2 130.2 563.9C132.4 564.6 134.6 565.0 136.8 565.1C139.1 565.2 141.3 564.4 143.5 564.3C145.7 564.1 148.0 563.9 150.2 564.3C152.4 564.6 154.6 566.4 156.8 566.4C159.1 566.4 161.3 565.7 163.5 564.3C165.7 562.9 168.0 559.9 170.2 558.1C172.4 556.3 174.6 554.5 176.9 553.4C179.1 552.3 181.3 551.4 183.5 551.4C185.8 551.4 188.0 552.3 190.2 553.4C192.4 554.6 194.9 556.8 196.9 558.4C198.8 560.1 200.2 562.0 201.9 563.4C203.6 564.8 204.7 566.0 206.9 566.8C209.1 567.5 212.5 567.2 215.3 567.9C218.0 568.6 220.8 570.1 223.6 570.9C226.4 571.8 229.4 573.1 231.9 572.9C234.4 572.8 236.1 572.0 238.6 570.1C241.1 568.2 244.5 564.8 247.0 561.8C249.5 558.7 251.8 554.3 253.6 551.8C255.4 549.2 256.4 550.4 257.8 546.7C259.2 543.1 260.4 536.7 262.0 530.1C263.5 523.4 265.0 515.0 267.0 506.7C268.9 498.4 271.4 489.4 273.7 480.0C275.9 470.6 277.5 460.6 280.3 450.1C283.1 439.6 287.0 427.3 290.3 416.7C293.6 406.2 297.4 395.5 300.3 386.7C303.2 377.9 306.0 369.6 307.6 364.0C309.2 358.3 308.8 357.0 310.1 352.8C311.3 348.6 312.9 342.2 315.1 338.6C317.3 335.0 320.7 332.8 323.4 331.1C326.2 329.4 329.0 329.0 331.8 328.3C334.6 327.6 337.3 328.7 340.1 326.9C342.9 325.2 345.7 320.8 348.5 317.8C351.3 314.7 354.3 310.6 356.8 308.6C359.3 306.6 360.7 306.3 363.5 305.7C366.3 305.2 370.4 305.5 373.5 305.2C376.6 305.0 379.1 304.1 381.8 304.1C384.6 304.1 387.4 305.2 390.2 305.2C393.0 305.2 395.7 304.4 398.5 304.1C401.3 303.7 404.1 303.4 406.9 303.1C409.7 302.8 412.4 303.4 415.2 302.2C418.0 301.1 420.8 298.2 423.6 296.1C426.3 293.9 429.1 291.6 431.9 289.4C434.7 287.2 437.5 285.2 440.2 282.7C443.0 280.2 445.8 277.0 448.6 274.4C451.4 271.7 454.2 268.3 456.9 266.9C459.7 265.4 462.5 265.1 465.3 265.7C468.1 266.3 470.8 268.5 473.6 270.2C476.4 271.9 479.2 274.2 482.0 276.0C484.7 277.9 487.3 278.9 490.0 281.2C492.7 283.4 495.6 286.8 498.3 289.5C501.1 292.3 503.9 295.1 506.7 297.9C509.5 300.7 512.2 303.9 515.0 306.2C517.8 308.5 520.6 310.7 523.4 311.6C526.2 312.4 528.9 311.8 531.7 311.6C534.5 311.4 537.3 310.8 540.1 310.4C542.8 310.0 545.6 310.3 548.4 309.2C551.2 308.2 554.0 305.3 556.7 304.2C559.5 303.2 562.3 304.1 565.1 302.9C567.9 301.7 570.6 298.2 573.4 297.0C576.2 295.9 579.0 295.8 581.8 296.2C584.6 296.6 587.3 298.6 590.1 299.5C592.9 300.5 595.7 301.2 598.5 302.0C601.2 302.9 604.0 303.2 606.8 304.5C609.6 305.9 612.4 308.9 615.1 310.4C617.9 311.9 620.7 313.0 623.5 313.7C626.3 314.4 629.1 314.4 631.8 314.6C634.6 314.7 637.7 315.4 640.2 314.6C642.7 313.7 644.9 310.8 646.8 309.6C648.8 308.3 649.6 307.7 651.9 307.1C654.1 306.4 657.4 306.3 660.2 305.7C663.0 305.2 665.8 304.5 668.5 303.7C671.3 302.9 674.1 301.7 676.9 300.7C679.7 299.7 682.7 298.3 685.2 297.9C687.7 297.4 689.7 297.7 691.9 297.9C694.1 298.0 696.1 297.2 698.6 298.7C701.1 300.2 704.1 303.9 706.9 307.1C709.7 310.3 712.5 314.4 715.3 317.9C718.0 321.4 720.8 324.7 723.6 327.9C726.4 331.1 729.2 333.3 731.9 337.1C734.7 340.8 737.5 346.7 740.3 350.4C743.1 354.2 746.4 357.9 748.6 359.6C750.9 361.4 752.0 360.8 753.6 360.9C755.3 361.1 756.7 361.4 758.6 360.4C760.6 359.5 762.8 357.9 765.3 355.4C767.8 352.9 770.9 349.3 773.7 345.4C776.4 341.5 779.4 336.7 782.0 332.1C784.6 327.5 786.7 322.2 789.2 318.0C791.6 313.8 794.3 310.3 796.7 306.8C799.1 303.3 801.1 299.6 803.4 296.8C805.6 294.0 807.5 291.9 810.0 290.1C812.5 288.3 815.6 287.1 818.4 285.9C821.2 284.8 823.7 283.9 826.7 283.4C829.8 282.9 833.7 283.0 836.7 282.9C839.8 282.9 842.3 282.7 845.1 282.9C847.9 283.2 850.6 284.0 853.4 284.3C856.2 284.6 859.5 284.7 861.8 284.8C864.0 284.8 864.8 285.8 866.8 284.6C868.7 283.4 871.2 280.0 873.5 277.6C875.7 275.2 877.9 272.7 880.1 270.1C882.4 267.5 884.6 264.4 886.8 261.8C889.0 259.1 891.3 256.3 893.5 254.2C895.7 252.2 897.9 250.3 900.2 249.2C902.4 248.1 904.9 249.0 906.8 247.6C908.8 246.2 909.9 243.4 911.8 240.9C913.8 238.4 916.3 235.5 918.5 232.5C920.7 229.6 923.0 225.9 925.2 223.4C927.4 220.9 929.4 219.1 931.9 217.5C934.3 216.0 937.5 213.8 940.0 214.2C942.5 214.7 944.7 218.5 946.7 220.1C948.6 221.7 949.7 223.5 951.7 223.7C953.6 224.0 956.1 222.9 958.4 221.7C960.6 220.6 962.5 217.4 965.0 216.7C967.5 216.0 970.3 217.3 973.4 217.6C976.4 217.8 980.3 218.2 983.4 218.4C986.4 218.6 988.9 218.7 991.7 218.7C994.5 218.7 997.6 219.4 1000.1 218.4C1002.6 217.4 1004.8 214.1 1006.7 212.6C1008.7 211.0 1009.0 209.8 1011.8 208.9C1014.5 208.0 1020.1 207.6 1023.4 207.2C1026.8 206.9 1029.0 206.2 1031.8 206.7C1034.6 207.2 1037.3 208.7 1040.1 210.1C1042.9 211.4 1045.7 213.3 1048.5 215.1C1051.2 216.9 1054.0 219.0 1056.8 220.9C1059.6 222.9 1062.4 224.7 1065.1 226.7C1067.9 228.8 1070.7 231.2 1073.5 233.4C1076.3 235.6 1079.1 238.4 1081.8 239.8C1084.6 241.2 1087.4 241.4 1090.2 241.8C1093.0 242.2 1095.7 242.7 1098.5 242.1C1101.3 241.5 1104.1 240.1 1106.9 238.4C1109.6 236.7 1112.4 234.0 1115.2 231.8C1118.0 229.5 1120.8 227.2 1123.5 225.1C1126.3 223.0 1129.1 221.0 1131.9 219.2C1134.7 217.4 1137.5 215.6 1140.2 214.2C1143.0 212.8 1145.8 212.1 1148.6 210.9C1151.4 209.7 1154.1 207.7 1156.9 207.2C1159.7 206.7 1162.5 207.6 1165.3 207.9C1168.0 208.2 1171.4 208.9 1173.6 209.2C1175.8 209.5 1177.8 209.5 1178.6 209.6" stroke="#fb9a22" stroke-opacity="0.78" stroke-width="1.35" fill="none" stroke-linejoin="round"/>
<path d="M6.0 375.4C10.6 377.1 23.2 381.7 33.4 385.7C43.5 389.7 55.6 394.8 66.7 399.4C77.9 404.0 89.0 408.8 100.1 413.4C111.2 418.0 122.3 422.2 133.5 426.7C144.6 431.3 155.7 436.1 166.8 440.8C178.0 445.4 189.1 449.7 200.2 454.4C211.3 459.2 222.4 465.1 233.6 469.5C244.7 473.8 255.8 477.5 266.9 480.8C278.1 484.1 289.2 486.4 300.3 489.5C311.4 492.6 322.5 496.5 333.7 499.5C344.8 502.5 355.9 504.8 367.0 507.5C378.2 510.2 389.3 513.4 400.4 515.8C411.5 518.2 422.6 520.2 433.8 521.8C444.9 523.5 456.0 524.8 467.1 525.8C478.3 526.8 492.2 527.5 500.5 527.8C508.8 528.2 511.6 528.1 517.2 527.8C522.7 527.6 525.5 527.5 533.9 526.2C542.2 524.9 556.1 522.3 567.2 520.2C578.4 518.1 588.5 515.8 600.6 513.5C612.7 511.2 630.1 508.3 640.0 506.2C649.9 504.0 648.9 502.9 660.1 500.8C671.2 498.7 691.8 496.1 706.8 493.5C721.8 490.9 734.6 488.6 750.2 485.1C765.7 481.7 780.7 477.2 800.2 472.8C819.7 468.3 850.3 462.5 866.9 458.4C883.6 454.4 889.2 451.5 900.3 448.4C911.4 445.4 920.9 443.1 933.7 440.1C946.5 437.0 963.1 432.7 977.0 430.1C990.9 427.4 1001.0 426.5 1017.1 424.1C1033.2 421.7 1058.8 418.1 1073.8 415.7C1088.8 413.4 1094.4 412.8 1107.2 410.1C1120.0 407.3 1139.2 402.0 1150.6 399.4C1162.0 396.8 1171.4 395.2 1175.6 394.4" stroke="#cc0606" stroke-width="2.4" fill="none" stroke-linejoin="round" stroke-linecap="round"/>
<rect x="858.5" y="168.2" width="376.2" height="79.3" fill="rgba(255,206,143,0.30)" stroke="#fbc071" stroke-width="1.1"/>
<line x1="1" y1="211.5" x2="1765" y2="211.5" stroke="#7f888d" stroke-width="1.1"/>
<line x1="0.5" y1="220.9" x2="1722" y2="222.1" stroke="#12aaf2" stroke-width="1.35" stroke-dasharray="10.8 9.2"/>
</g>
<g clip-path="url(#cd)">
<rect x="4.750" y="667.8" width="3.75" height="12" fill="#e8694f"/>
<rect x="13.500" y="667.8" width="3.75" height="10.6" fill="#e8694f"/>
<rect x="21.000" y="667.8" width="3.75" height="8.6" fill="#e8694f"/>
<rect x="29.750" y="667.8" width="3.75" height="5.6" fill="#e8694f"/>
<rect x="38.500" y="667.8" width="3.75" height="2.3" fill="#e8694f"/>
<rect x="46.000" y="665.6" width="3.75" height="2" fill="#f79b33"/>
<rect x="54.750" y="663.9" width="3.75" height="3.7" fill="#f79b33"/>
<rect x="63.500" y="660.1" width="3.75" height="7.5" fill="#f79b33"/>
<rect x="71.000" y="658.9" width="3.75" height="8.7" fill="#f79b33"/>
<rect x="79.750" y="658.9" width="3.75" height="8.7" fill="#f79b33"/>
<rect x="88.500" y="658.9" width="3.75" height="8.7" fill="#f79b33"/>
<rect x="97.250" y="660.1" width="3.75" height="7.5" fill="#f79b33"/>
<rect x="104.750" y="662.7" width="3.75" height="4.9" fill="#f79b33"/>
<rect x="113.500" y="665.9" width="3.75" height="1.7" fill="#f79b33"/>
<rect x="122.250" y="667.8" width="3.75" height="1.1" fill="#e8694f"/>
<rect x="129.750" y="667.8" width="3.75" height="1.1" fill="#e8694f"/>
<rect x="138.500" y="665.9" width="3.75" height="1.7" fill="#f79b33"/>
<rect x="147.250" y="665.1" width="3.75" height="2.5" fill="#f79b33"/>
<rect x="154.750" y="665.1" width="3.75" height="2.5" fill="#f79b33"/>
<rect x="163.500" y="665.1" width="3.75" height="2.5" fill="#f79b33"/>
<rect x="172.250" y="662.7" width="3.75" height="4.9" fill="#f79b33"/>
<rect x="179.750" y="662.7" width="3.75" height="4.9" fill="#f79b33"/>
<rect x="188.500" y="663.9" width="3.75" height="3.7" fill="#f79b33"/>
<rect x="204.750" y="667.8" width="3.75" height="1.1" fill="#e8694f"/>
<rect x="213.500" y="667.8" width="3.75" height="2.3" fill="#e8694f"/>
<rect x="222.250" y="667.8" width="3.75" height="2.3" fill="#e8694f"/>
<rect x="238.500" y="663.9" width="3.75" height="3.7" fill="#f79b33"/>
<rect x="247.250" y="661.4" width="3.75" height="6.2" fill="#f79b33"/>
<rect x="256.000" y="658.9" width="3.75" height="8.7" fill="#f79b33"/>
<rect x="263.500" y="648.9" width="3.75" height="18.7" fill="#f79b33"/>
<rect x="272.250" y="641.4" width="3.75" height="26.2" fill="#f79b33"/>
<rect x="281.000" y="637.7" width="3.75" height="29.9" fill="#f79b33"/>
<rect x="288.500" y="638.9" width="3.75" height="28.7" fill="#f79b33"/>
<rect x="297.250" y="640.2" width="3.75" height="27.4" fill="#f79b33"/>
<rect x="306.000" y="641.7" width="3.75" height="25.9" fill="#f79b33"/>
<rect x="313.500" y="643.9" width="3.75" height="23.7" fill="#f79b33"/>
<rect x="322.250" y="647.6" width="3.75" height="20" fill="#f79b33"/>
<rect x="331.000" y="652.6" width="3.75" height="15" fill="#f79b33"/>
<rect x="338.500" y="657.7" width="3.75" height="9.9" fill="#f79b33"/>
<rect x="347.250" y="661.4" width="3.75" height="6.2" fill="#f79b33"/>
<rect x="356.000" y="661.4" width="3.75" height="6.2" fill="#f79b33"/>
<rect x="363.500" y="663.9" width="3.75" height="3.7" fill="#f79b33"/>
<rect x="381.000" y="667.8" width="3.75" height="2.3" fill="#e8694f"/>
<rect x="389.750" y="667.8" width="3.75" height="6.1" fill="#e8694f"/>
<rect x="397.250" y="667.8" width="3.75" height="7.3" fill="#e8694f"/>
<rect x="406.000" y="667.8" width="3.75" height="7.3" fill="#e8694f"/>
<rect x="414.750" y="667.8" width="3.75" height="4.8" fill="#e8694f"/>
<rect x="422.250" y="667.8" width="3.75" height="3.6" fill="#e8694f"/>
<rect x="431.000" y="667.8" width="3.75" height="2.3" fill="#e8694f"/>
<rect x="439.750" y="667.8" width="3.75" height="2.3" fill="#e8694f"/>
<rect x="447.250" y="667.8" width="3.75" height="2.3" fill="#e8694f"/>
<rect x="456.000" y="667.8" width="3.75" height="3.6" fill="#e8694f"/>
<rect x="464.750" y="667.8" width="3.75" height="4.8" fill="#e8694f"/>
<rect x="472.250" y="667.8" width="3.75" height="7.3" fill="#e8694f"/>
<rect x="481.000" y="667.8" width="3.75" height="8.3" fill="#e8694f"/>
<rect x="489.750" y="667.8" width="3.75" height="9.8" fill="#e8694f"/>
<rect x="497.250" y="667.8" width="3.75" height="11.1" fill="#e8694f"/>
<rect x="506.000" y="667.8" width="3.75" height="12.3" fill="#e8694f"/>
<rect x="514.750" y="667.8" width="3.75" height="13.3" fill="#e8694f"/>
<rect x="523.500" y="667.8" width="3.75" height="13.3" fill="#e8694f"/>
<rect x="531.000" y="667.8" width="3.75" height="9.8" fill="#e8694f"/>
<rect x="539.750" y="667.8" width="3.75" height="7.3" fill="#e8694f"/>
<rect x="548.500" y="667.8" width="3.75" height="4.8" fill="#e8694f"/>
<rect x="556.000" y="667.8" width="3.75" height="2.3" fill="#e8694f"/>
<rect x="564.750" y="667.8" width="3.75" height="2.3" fill="#e8694f"/>
<rect x="573.500" y="667.8" width="3.75" height="2.3" fill="#e8694f"/>
<rect x="581.000" y="667.8" width="3.75" height="3.6" fill="#e8694f"/>
<rect x="589.750" y="667.8" width="3.75" height="3.6" fill="#e8694f"/>
<rect x="598.500" y="667.8" width="3.75" height="3.6" fill="#e8694f"/>
<rect x="606.000" y="667.8" width="3.75" height="4.8" fill="#e8694f"/>
<rect x="614.750" y="667.8" width="3.75" height="3.6" fill="#e8694f"/>
<rect x="623.500" y="667.8" width="3.75" height="3.6" fill="#e8694f"/>
<rect x="631.000" y="667.8" width="3.75" height="3.6" fill="#e8694f"/>
<rect x="639.750" y="667.8" width="3.75" height="2.3" fill="#e8694f"/>
<rect x="656.000" y="666.1" width="3.75" height="1.5" fill="#f79b33"/>
<rect x="664.750" y="666.1" width="3.75" height="1.5" fill="#f79b33"/>
<rect x="673.500" y="666.1" width="3.75" height="1.5" fill="#f79b33"/>
<rect x="682.250" y="665.1" width="3.75" height="2.5" fill="#f79b33"/>
<rect x="689.750" y="666.1" width="3.75" height="1.5" fill="#f79b33"/>
<rect x="698.500" y="667.8" width="3.75" height="1.1" fill="#e8694f"/>
<rect x="707.250" y="667.8" width="3.75" height="4.8" fill="#e8694f"/>
<rect x="714.750" y="667.8" width="3.75" height="6.1" fill="#e8694f"/>
<rect x="723.500" y="667.8" width="3.75" height="8.6" fill="#e8694f"/>
<rect x="732.250" y="667.8" width="3.75" height="8.6" fill="#e8694f"/>
<rect x="739.750" y="667.8" width="3.75" height="8.3" fill="#e8694f"/>
<rect x="748.500" y="667.8" width="3.75" height="8.3" fill="#e8694f"/>
<rect x="757.250" y="667.8" width="3.75" height="3.6" fill="#e8694f"/>
<rect x="773.500" y="662.7" width="3.75" height="4.9" fill="#f79b33"/>
<rect x="782.250" y="658.9" width="3.75" height="8.7" fill="#f79b33"/>
<rect x="789.750" y="656.4" width="3.75" height="11.2" fill="#f79b33"/>
<rect x="798.500" y="656.4" width="3.75" height="11.2" fill="#f79b33"/>
<rect x="807.250" y="657.6" width="3.75" height="10" fill="#f79b33"/>
<rect x="816.000" y="658.9" width="3.75" height="8.7" fill="#f79b33"/>
<rect x="823.500" y="661.1" width="3.75" height="6.5" fill="#f79b33"/>
<rect x="832.250" y="661.4" width="3.75" height="6.2" fill="#f79b33"/>
<rect x="841.000" y="662.7" width="3.75" height="4.9" fill="#f79b33"/>
<rect x="848.500" y="662.7" width="3.75" height="4.9" fill="#f79b33"/>
<rect x="857.250" y="665.1" width="3.75" height="2.5" fill="#f79b33"/>
<rect x="866.000" y="666.1" width="3.75" height="1.5" fill="#f79b33"/>
<rect x="873.500" y="665.2" width="3.75" height="2.4" fill="#f79b33"/>
<rect x="882.250" y="662.7" width="3.75" height="4.9" fill="#f79b33"/>
<rect x="891.000" y="658.9" width="3.75" height="8.7" fill="#f79b33"/>
<rect x="898.500" y="658.9" width="3.75" height="8.7" fill="#f79b33"/>
<rect x="907.250" y="661.4" width="3.75" height="6.2" fill="#f79b33"/>
<rect x="916.000" y="660.1" width="3.75" height="7.5" fill="#f79b33"/>
<rect x="923.500" y="661.4" width="3.75" height="6.2" fill="#f79b33"/>
<rect x="932.250" y="662.7" width="3.75" height="4.9" fill="#f79b33"/>
<rect x="941.000" y="662.7" width="3.75" height="4.9" fill="#f79b33"/>
<rect x="982.250" y="667.8" width="3.75" height="1.1" fill="#e8694f"/>
<rect x="991.000" y="667.8" width="3.75" height="1.1" fill="#e8694f"/>
<rect x="999.750" y="667.8" width="3.75" height="1.1" fill="#e8694f"/>
<rect x="1032.250" y="667.8" width="3.75" height="2.3" fill="#e8694f"/>
<rect x="1041.000" y="667.8" width="3.75" height="3.6" fill="#e8694f"/>
<rect x="1049.750" y="667.8" width="3.75" height="6.1" fill="#e8694f"/>
<rect x="1057.250" y="667.8" width="3.75" height="7.3" fill="#e8694f"/>
<rect x="1066.000" y="667.8" width="3.75" height="7.3" fill="#e8694f"/>
<rect x="1074.750" y="667.8" width="3.75" height="7.3" fill="#e8694f"/>
<rect x="1082.250" y="667.8" width="3.75" height="6.1" fill="#e8694f"/>
<rect x="1091.000" y="667.8" width="3.75" height="4.8" fill="#e8694f"/>
<rect x="1099.750" y="667.8" width="3.75" height="3.6" fill="#e8694f"/>
<rect x="1108.500" y="667.8" width="3.75" height="1.1" fill="#e8694f"/>
<rect x="1116.000" y="666.1" width="3.75" height="1.5" fill="#f79b33"/>
<rect x="1124.750" y="665.1" width="3.75" height="2.5" fill="#f79b33"/>
<rect x="1133.500" y="663.9" width="3.75" height="3.7" fill="#f79b33"/>
<rect x="1141.000" y="663.9" width="3.75" height="3.7" fill="#f79b33"/>
<rect x="1149.750" y="665.1" width="3.75" height="2.5" fill="#f79b33"/>
<rect x="1158.500" y="666.1" width="3.75" height="1.5" fill="#f79b33"/>
<rect x="1166.000" y="666.1" width="3.75" height="1.5" fill="#f79b33"/>
<rect x="1174.750" y="666.1" width="3.75" height="1.5" fill="#f79b33"/>
<path d="M6.3 672.3C8.1 672.7 13.6 674.1 16.7 675.1C19.8 676.1 22.2 677.2 25.0 678.1C27.8 679.0 30.3 679.9 33.4 680.6C36.4 681.3 39.8 681.7 43.4 682.3C47.0 682.8 51.7 683.7 55.1 683.9C58.4 684.2 60.6 684.2 63.4 683.9C66.2 683.7 68.4 683.1 71.8 682.6C75.1 682.1 80.1 681.5 83.4 680.9C86.8 680.4 89.0 680.0 91.8 679.4C94.6 678.8 95.9 678.0 100.1 677.3C104.3 676.5 112.4 675.6 116.8 675.1C121.3 674.6 122.6 674.7 126.8 674.4C131.0 674.1 136.8 673.5 141.8 673.4C146.8 673.3 153.0 673.9 156.8 673.9C160.7 673.9 162.4 673.7 165.2 673.4C168.0 673.1 169.4 672.5 173.5 672.3C177.7 672.0 186.1 672.0 190.2 671.8C194.4 671.5 194.4 671.1 198.6 670.9C202.7 670.8 209.7 670.9 215.3 670.9C220.8 670.9 227.8 670.9 231.9 670.9C236.1 670.9 237.3 671.0 240.0 671.1C242.7 671.2 245.6 671.6 248.3 671.4C251.1 671.3 253.9 670.8 256.7 670.1C259.5 669.4 262.2 668.3 265.0 667.2C267.8 666.2 270.6 665.2 273.4 663.9C276.2 662.7 278.9 661.5 281.7 659.7C284.5 657.9 287.3 655.2 290.1 653.1C292.8 651.0 295.6 649.0 298.4 647.2C301.2 645.4 304.0 644.2 306.7 642.2C309.5 640.3 312.3 637.8 315.1 635.5C317.9 633.3 320.6 630.9 323.4 628.9C326.2 626.8 329.0 624.9 331.8 623.4C334.6 621.8 337.3 620.6 340.1 619.4C342.9 618.1 345.7 616.8 348.5 615.9C351.2 614.9 354.0 614.2 356.8 613.5C359.6 612.9 362.4 612.3 365.1 611.8C367.9 611.4 370.7 611.2 373.5 611.0C376.3 610.8 379.1 610.5 381.8 610.5C384.6 610.5 387.4 610.5 390.2 610.8C393.0 611.2 395.7 612.2 398.5 612.7C401.3 613.2 402.7 613.2 406.9 613.9C411.0 614.5 418.0 615.5 423.5 616.4C429.1 617.2 434.7 618.0 440.2 618.9C445.8 619.7 451.4 620.6 456.9 621.4C462.5 622.1 469.4 623.0 473.6 623.5C477.8 624.1 479.2 624.1 481.9 624.7C484.7 625.3 487.5 626.3 490.3 627.2C493.1 628.1 495.9 629.2 498.6 630.0C501.4 630.9 504.2 631.3 507.0 632.2C509.8 633.1 512.5 634.5 515.3 635.5C518.1 636.6 521.2 637.6 523.7 638.5C526.1 639.5 527.6 640.4 530.0 641.4C532.4 642.4 535.6 643.5 538.3 644.4C541.1 645.3 542.5 645.6 546.7 646.7C550.9 647.8 557.8 649.8 563.4 650.9C568.9 652.0 574.5 652.9 580.1 653.6C585.6 654.2 591.2 654.1 596.7 654.7C602.3 655.3 607.9 656.4 613.4 657.2C619.0 658.1 625.9 659.1 630.1 659.7C634.3 660.4 635.1 660.6 638.5 660.9C641.8 661.2 646.0 661.2 650.1 661.4C654.3 661.6 658.5 662.1 663.5 662.2C668.5 662.4 674.6 662.2 680.2 662.2C685.7 662.2 691.3 662.0 696.9 662.2C702.4 662.4 709.4 663.0 713.5 663.4C717.7 663.8 719.1 663.9 721.9 664.4C724.7 664.9 727.5 665.8 730.2 666.4C733.0 667.0 735.8 667.4 738.6 668.1C741.4 668.8 744.1 669.9 746.9 670.6C749.7 671.3 752.5 671.7 755.3 672.3C758.0 672.8 760.8 673.5 763.6 673.9C766.4 674.3 769.2 674.6 771.9 674.8C774.7 674.9 777.5 674.8 780.3 674.8C783.1 674.7 785.9 674.5 788.6 674.3C791.4 674.0 793.4 674.1 797.0 673.4C800.6 672.7 807.0 670.8 810.3 670.1C813.7 669.3 815.4 669.3 817.0 668.9C818.6 668.5 817.8 668.4 820.0 667.7C822.2 667.1 826.7 665.6 830.0 664.7C833.3 663.9 836.7 663.5 840.0 662.7C843.4 662.0 846.1 660.7 850.0 660.1C853.9 659.5 859.5 659.6 863.4 659.2C867.3 658.9 869.5 658.5 873.4 658.1C877.3 657.6 881.7 657.1 886.7 656.4C891.8 655.7 897.9 654.7 903.4 653.9C909.0 653.1 915.1 652.2 920.1 651.4C925.1 650.6 929.0 650.1 933.5 649.2C937.9 648.3 942.1 646.6 946.8 646.1C951.5 645.5 956.5 645.8 961.8 645.9C967.1 645.9 972.4 646.3 978.5 646.4C984.6 646.5 993.0 646.3 998.5 646.4C1004.1 646.5 1006.9 647.0 1011.9 647.2C1016.9 647.4 1023.0 647.4 1028.6 647.7C1034.1 648.1 1041.7 648.9 1045.3 649.2C1048.8 649.6 1046.4 649.2 1050.0 649.7C1053.6 650.2 1062.5 651.4 1066.7 652.2C1070.9 653.1 1071.1 654.0 1075.0 654.7C1078.9 655.5 1085.3 655.9 1090.0 656.9C1094.8 657.9 1099.5 659.8 1103.4 660.6C1107.3 661.3 1110.1 661.2 1113.4 661.4C1116.7 661.6 1120.1 661.8 1123.4 661.9C1126.8 662.0 1130.4 662.3 1133.4 662.2C1136.5 662.2 1139.0 661.6 1141.8 661.4C1144.6 661.2 1145.9 660.9 1150.1 660.9C1154.3 660.9 1162.5 661.5 1166.8 661.4C1171.1 661.3 1174.5 660.4 1176.0 660.2" stroke="#e4746a" stroke-opacity="0.75" stroke-width="1.5" fill="none" stroke-linejoin="round"/>
<path d="M6.3 684.8C8.1 685.0 12.7 685.8 16.7 686.1C20.6 686.4 26.4 686.8 30.0 686.4C33.7 686.1 35.0 684.9 38.4 683.9C41.7 683.0 46.2 681.7 50.1 680.6C54.0 679.5 58.1 678.3 61.7 677.3C65.4 676.2 68.1 675.2 71.8 674.4C75.4 673.7 79.0 673.3 83.4 672.8C87.9 672.2 94.3 670.9 98.4 670.9C102.6 671.0 105.4 672.4 108.5 673.1C111.5 673.8 113.7 674.5 116.8 675.1C119.9 675.6 124.0 676.4 126.8 676.4C129.6 676.4 131.0 675.8 133.5 675.1C136.0 674.4 139.3 672.9 141.8 672.3C144.3 671.6 146.0 670.9 148.5 670.9C151.0 671.0 154.1 672.4 156.8 672.6C159.6 672.8 162.4 672.8 165.2 672.3C168.0 671.7 170.8 669.9 173.5 669.4C176.3 668.9 179.1 669.3 181.9 669.4C184.7 669.5 187.4 669.8 190.2 670.1C193.0 670.4 195.8 670.8 198.6 671.4C201.3 672.1 203.8 673.4 206.9 673.9C210.0 674.4 213.9 674.4 216.9 674.4C220.0 674.4 222.5 674.3 225.3 673.9C228.0 673.6 231.1 673.2 233.6 672.3C236.1 671.3 237.5 669.3 240.0 668.1C242.5 666.8 245.1 666.0 248.3 664.7C251.5 663.5 256.4 663.4 259.2 660.6C262.0 657.8 262.7 652.0 265.0 648.1C267.4 644.2 270.6 640.3 273.4 637.2C276.2 634.2 278.9 631.7 281.7 629.7C284.5 627.8 287.3 627.1 290.1 625.5C292.8 624.0 295.6 622.1 298.4 620.5C301.2 618.9 304.0 617.4 306.7 616.0C309.5 614.6 312.3 613.0 315.1 612.2C317.9 611.3 320.6 611.4 323.4 611.0C326.2 610.6 329.0 609.6 331.8 609.7C334.6 609.7 337.3 611.1 340.1 611.3C342.9 611.6 345.7 611.8 348.5 611.3C351.2 610.9 354.0 609.0 356.8 608.8C359.6 608.7 362.4 609.8 365.1 610.5C367.9 611.2 370.7 612.2 373.5 613.0C376.3 613.9 379.1 614.7 381.8 615.5C384.6 616.4 387.4 616.9 390.2 618.0C393.0 619.1 395.7 621.4 398.5 622.2C401.3 623.0 404.1 623.2 406.9 623.0C409.6 622.9 412.4 621.8 415.2 621.4C418.0 620.9 420.8 620.2 423.5 620.2C426.3 620.2 429.1 621.2 431.9 621.4C434.7 621.6 437.5 620.8 440.2 621.4C443.0 621.9 445.8 623.8 448.6 624.7C451.4 625.6 454.1 626.0 456.9 626.7C459.7 627.4 462.5 627.9 465.3 628.9C468.0 629.9 470.8 631.7 473.6 632.7C476.4 633.7 479.2 634.2 481.9 635.0C484.7 635.9 487.5 637.0 490.3 638.0C493.1 639.0 495.9 639.9 498.6 641.1C501.4 642.2 504.2 643.3 507.0 644.7C509.8 646.2 512.5 648.3 515.3 649.7C518.1 651.2 521.2 652.9 523.7 653.6C526.1 654.3 525.6 653.8 530.0 653.9C534.4 654.0 545.4 654.2 550.0 653.9C554.6 653.6 553.6 652.1 557.5 652.2C561.4 652.4 568.0 653.4 573.4 654.7C578.8 656.0 585.6 659.2 590.1 660.1C594.5 661.0 595.6 659.6 600.1 660.1C604.5 660.5 611.8 662.2 616.8 662.7C621.8 663.3 625.9 663.2 630.1 663.6C634.3 663.9 638.5 665.0 641.8 664.7C645.1 664.5 646.5 662.2 650.1 661.9C653.8 661.6 659.3 662.7 663.5 662.7C667.7 662.8 671.8 662.5 675.2 662.2C678.5 661.9 680.5 660.9 683.5 660.9C686.6 660.9 690.2 661.4 693.5 662.2C696.9 663.1 700.5 664.8 703.5 666.1C706.6 667.4 709.1 668.9 711.9 670.1C714.7 671.3 717.4 672.2 720.2 673.1C723.0 674.0 725.8 674.8 728.6 675.6C731.3 676.4 734.1 677.4 736.9 678.1C739.7 678.8 743.0 679.4 745.3 679.8C747.5 680.1 748.0 680.6 750.3 680.3C752.5 679.9 755.8 678.7 758.6 677.8C761.4 676.8 764.2 675.8 766.9 674.4C769.7 673.1 772.5 671.1 775.3 669.8C778.1 668.4 780.8 667.4 783.6 666.4C786.4 665.4 789.2 664.4 792.0 663.6C794.8 662.7 796.7 661.8 800.3 661.4C803.9 661.0 810.4 661.5 813.7 661.4C816.9 661.3 817.3 661.0 820.0 660.6C822.7 660.2 826.7 659.5 830.0 658.9C833.3 658.3 836.7 657.7 840.0 657.2C843.4 656.7 846.1 655.8 850.0 655.9C853.9 656.0 859.8 657.9 863.4 658.1C867.0 658.2 868.7 657.7 871.7 656.7C874.8 655.8 878.4 653.9 881.7 652.2C885.1 650.6 888.7 647.9 891.8 646.9C894.8 645.9 897.3 645.9 900.1 646.1C902.9 646.2 905.7 647.8 908.4 647.6C911.2 647.3 912.6 645.2 916.8 644.7C921.0 644.2 929.3 644.6 933.5 644.4C937.6 644.2 939.0 642.8 941.8 643.4C944.6 643.9 946.8 647.2 950.2 647.7C953.5 648.2 957.7 646.4 961.8 646.4C966.0 646.4 971.0 647.5 975.2 647.7C979.4 647.9 983.5 647.4 986.9 647.7C990.2 648.0 992.7 649.3 995.2 649.4C997.7 649.5 999.1 648.9 1001.9 648.6C1004.7 648.2 1008.3 647.3 1011.9 647.2C1015.5 647.1 1020.0 647.4 1023.6 648.1C1027.2 648.8 1030.5 650.4 1033.6 651.4C1036.6 652.4 1039.2 653.1 1041.9 653.9C1044.7 654.7 1047.0 655.3 1050.0 656.4C1053.0 657.5 1056.7 659.4 1060.0 660.2C1063.3 661.1 1066.7 661.1 1070.0 661.4C1073.4 661.7 1076.7 661.9 1080.0 662.2C1083.4 662.6 1086.7 663.2 1090.0 663.6C1093.4 664.0 1097.0 664.9 1100.1 664.7C1103.1 664.6 1105.6 663.1 1108.4 662.6C1111.2 662.0 1114.0 661.9 1116.7 661.4C1119.5 660.9 1122.3 660.2 1125.1 659.7C1127.9 659.3 1129.3 658.8 1133.4 658.6C1137.6 658.3 1145.9 658.2 1150.1 658.4C1154.3 658.6 1155.7 659.5 1158.5 659.7C1161.2 660.0 1163.9 660.1 1166.8 660.1C1169.7 660.0 1174.5 659.5 1176.0 659.4" stroke="#fb9f3a" stroke-opacity="0.75" stroke-width="1.45" fill="none" stroke-linejoin="round"/>
</g>
<g font-family="Liberation Sans, Arial, sans-serif" font-size="14.7" fill="#37444c" stroke="#37444c" stroke-width="0.1" letter-spacing="0.86">
<text x="1776.5" y="56.1">115.94</text>
<text x="1776.5" y="102.1">111.32</text>
<text x="1776.5" y="148.1">106.70</text>
<text x="1776.5" y="194.1">102.08</text>
<text x="1776.5" y="240.1">97.46</text>
<text x="1776.5" y="286.1">92.83</text>
<text x="1776.5" y="331.6">88.21</text>
<text x="1776.5" y="377.6">83.59</text>
<text x="1776.5" y="423.6">78.97</text>
<text x="1776.5" y="469.6">74.35</text>
<text x="1776.5" y="515.6">69.72</text>
<text x="1776.5" y="561.6">65.10</text>
<text x="1776.5" y="601.4">60.48</text>
<text x="1776.5" y="617.6">7.32179</text>
<text x="1776.5" y="651.4">2.44060</text>
<text x="1775.8" y="692.6">-2.44060</text>
<text x="1775.8" y="728.3">-7.32179</text>
<text x="5.72" y="744.4" letter-spacing="0.8">25.09.2020</text>
<text x="180.72" y="744.4" letter-spacing="0.8">26.10.2020</text>
<text x="355.73" y="744.4" letter-spacing="0.8">24.11.2020</text>
<text x="531.98" y="744.4" letter-spacing="0.8">23.12.2020</text>
<text x="706.98" y="744.4" letter-spacing="0.8">25.01.2021</text>
<text x="883.23" y="744.4" letter-spacing="0.8">23.02.2021</text>
<text x="1058.22" y="744.4" letter-spacing="0.8">24.03.2021</text>
<text x="1233.22" y="744.4" letter-spacing="0.8">22.04.2021</text>
<text x="1409.47" y="744.4" letter-spacing="0.8">13.05.2021</text>
<text x="1584.47" y="744.4" letter-spacing="0.8">03.06.2021</text>
</g>
<path d="M1762 211.5L1771 201.2H1836V221.8H1771Z" fill="#868f94"/>
<text x="1776.3" y="217.2" font-family="Liberation Sans, Arial, sans-serif" font-size="15" font-weight="bold" fill="#fff" letter-spacing="0.55">99.97</text>
<rect x="1721.2" y="213" width="44.7" height="18.6" fill="#03a9f4"/>
<text x="1727.2" y="226.3" font-family="Liberation Sans, Arial, sans-serif" font-size="13" font-weight="bold" fill="#fff" letter-spacing="0.2">98.97</text>
<text transform="translate(1281 482.9) scale(0.925 1)" font-family="Liberation Sans, Arial, sans-serif" font-size="21.6" fill="#37434b" letter-spacing="0.2">AIRBUS</text>
<text x="1692.8" y="586" font-family="Liberation Sans, Arial, sans-serif" font-size="18.7" letter-spacing="0"><tspan fill="#ff8c1a">14</tspan><tspan fill="#a3adb5">h</tspan> <tspan fill="#ff8c1a">05</tspan><tspan fill="#a3adb5">m</tspan></text>
<g opacity="0.88">
<rect x="6.4" y="547.70" width="12.7" height="2.9" rx="0.9" fill="#a6a6a6"/>
<rect x="15.4" y="548.55" width="2.8" height="1.2" rx="0.6" fill="#fff"/>
<rect x="6.4" y="552.20" width="12.7" height="2.9" rx="0.9" fill="#a6a6a6"/>
<rect x="15.4" y="553.05" width="2.8" height="1.2" rx="0.6" fill="#fff"/>
<rect x="6.4" y="556.70" width="12.7" height="2.9" rx="0.9" fill="#a6a6a6"/>
<rect x="15.4" y="557.55" width="2.8" height="1.2" rx="0.6" fill="#fff"/>
<path d="M24.6 549.7L32.6 557.7M32.6 549.7L24.6 557.7" stroke="#a6a6a6" stroke-width="3.3" fill="none"/>
<text x="37.8" y="558.8" font-family="Liberation Sans, Arial, sans-serif" font-size="12.5" fill="#474b4f" letter-spacing="0.42">SMA [200, 0] 81.45</text>
</g>
<g opacity="0.88">
<rect x="6.4" y="565.50" width="12.7" height="2.9" rx="0.9" fill="#a6a6a6"/>
<rect x="15.4" y="566.35" width="2.8" height="1.2" rx="0.6" fill="#fff"/>
<rect x="6.4" y="570.00" width="12.7" height="2.9" rx="0.9" fill="#a6a6a6"/>
<rect x="15.4" y="570.85" width="2.8" height="1.2" rx="0.6" fill="#fff"/>
<rect x="6.4" y="574.50" width="12.7" height="2.9" rx="0.9" fill="#a6a6a6"/>
<rect x="15.4" y="575.35" width="2.8" height="1.2" rx="0.6" fill="#fff"/>
<path d="M24.6 567.5L32.6 575.5M32.6 567.5L24.6 575.5" stroke="#a6a6a6" stroke-width="3.3" fill="none"/>
<text x="37.8" y="576.6" font-family="Liberation Sans, Arial, sans-serif" font-size="12.5" fill="#474b4f" letter-spacing="0.42">SMA [20, 0] 98.90</text>
</g>
<g opacity="0.88">
<rect x="6.4" y="583.30" width="12.7" height="2.9" rx="0.9" fill="#a6a6a6"/>
<rect x="15.4" y="584.15" width="2.8" height="1.2" rx="0.6" fill="#fff"/>
<rect x="6.4" y="587.80" width="12.7" height="2.9" rx="0.9" fill="#a6a6a6"/>
<rect x="15.4" y="588.65" width="2.8" height="1.2" rx="0.6" fill="#fff"/>
<rect x="6.4" y="592.30" width="12.7" height="2.9" rx="0.9" fill="#a6a6a6"/>
<rect x="15.4" y="593.15" width="2.8" height="1.2" rx="0.6" fill="#fff"/>
<path d="M24.6 585.3L32.6 593.3M32.6 585.3L24.6 593.3" stroke="#a6a6a6" stroke-width="3.3" fill="none"/>
<text x="37.8" y="594.4" font-family="Liberation Sans, Arial, sans-serif" font-size="12.5" fill="#474b4f" letter-spacing="0.42">SMA [7, 0] 100.23</text>
</g>
<g opacity="0.88">
<rect x="6.4" y="713.70" width="12.7" height="2.9" rx="0.9" fill="#a6a6a6"/>
<rect x="15.4" y="714.55" width="2.8" height="1.2" rx="0.6" fill="#fff"/>
<rect x="6.4" y="718.20" width="12.7" height="2.9" rx="0.9" fill="#a6a6a6"/>
<rect x="15.4" y="719.05" width="2.8" height="1.2" rx="0.6" fill="#fff"/>
<rect x="6.4" y="722.70" width="12.7" height="2.9" rx="0.9" fill="#a6a6a6"/>
<rect x="15.4" y="723.55" width="2.8" height="1.2" rx="0.6" fill="#fff"/>
<path d="M24.6 715.7L32.6 723.7M32.6 715.7L24.6 723.7" stroke="#a6a6a6" stroke-width="3.3" fill="none"/>
<text x="37.8" y="724.8" font-family="Liberation Sans, Arial, sans-serif" font-size="12.5" fill="#474b4f" letter-spacing="0.42">MACD [12, 26, 9] 0.80599, 0.78056</text>
</g>
<rect x="0" y="761.2" width="1158.8" height="6" fill="#e3e7ea"/>
<rect x="1271.9" y="761.2" width="566.1" height="6" fill="#e3e7ea"/>
<g fill="#f2f3f5">
<rect x="-2.0" y="765" width="111.0" height="2"/>
<rect x="111.6" y="765" width="113.6" height="2"/>
<rect x="227.8" y="765" width="113.6" height="2"/>
<rect x="344.0" y="765" width="113.6" height="2"/>
<rect x="460.2" y="765" width="113.6" height="2"/>
<rect x="576.4" y="765" width="113.6" height="2"/>
<rect x="692.6" y="765" width="113.6" height="2"/>
<rect x="808.8" y="765" width="113.6" height="2"/>
<rect x="925.0" y="765" width="113.6" height="2"/>
<rect x="1041.2" y="765" width="114.5" height="2"/>
<rect x="1275.0" y="765" width="111.7" height="2"/>
<rect x="1389.3" y="765" width="114.9" height="2"/>
<rect x="1506.8" y="765" width="114.9" height="2"/>
<rect x="1624.3" y="765" width="114.9" height="2"/>
<rect x="1741.8" y="765" width="98.2" height="2"/>
</g>
</svg>
<div class="tb">
  <div class="bg1"></div><div class="bg2"></div><div class="bg3"></div>
  <div class="sym">AIR.FR</div>
  <div class="typ">STC CFD</div>
  <div class="per"><span>D1</span></div>
  <div class="sell">99.97</div>
  <div class="vol"><div class="m"></div><div class="v">100.00</div><div class="p"></div></div>
  <div class="buy">99.99</div>
  <div class="sltp">SL/TP</div>
  <svg class="ico" width="378" height="51" viewBox="13 0 378 51">
    <path d="M132.3 9.3H141.5L136.9 14.2Z" fill="#b3b3b3"/>
    <circle cx="159.6" cy="12.5" r="6.8" fill="none" stroke="#8a9398" stroke-width="1.4"/>
    <path d="M159.6 11.4V16.2" stroke="#6f787e" stroke-width="1.5" fill="none"/>
    <circle cx="159.6" cy="9" r="0.95" fill="#6f787e"/>
    <path d="M212.6 11H221.7L217.15 15.8Z" fill="#b3b3b3"/>
    <path d="M62.2 38.5H70.7" stroke="#a7adb2" stroke-width="1.2"/>
    <path d="M131.2 38.5H139.8M135.5 34.2V42.8" stroke="#a7adb2" stroke-width="1.2"/>
    <g stroke="#63717a" fill="none" stroke-width="1.6" stroke-linecap="round" stroke-linejoin="round">
      <path d="M249.3 42.1L254.5 36.4L257.9 39.6L264.8 33.1" stroke="#6d7a83" stroke-width="1.8"/>
      <circle cx="265.3" cy="32.7" r="1.5" fill="#6d7a83" stroke="#6d7a83" stroke-width="0.9"/>
      <path d="M282.6 28.2V43.4M287.8 31.2V44.7M293.1 29.4V40.8" stroke-width="1.3"/>
      <rect x="281.2" y="31.6" width="2.8" height="7" stroke-width="1.4" fill="#cfd4d8"/>
      <rect x="286.4" y="36.4" width="2.8" height="4.6" stroke-width="1.4" fill="#cfd4d8"/>
      <rect x="291.7" y="33.2" width="2.8" height="4.2" stroke-width="1.4" fill="#cfd4d8"/>
      <circle cx="316.6" cy="34.8" r="5.8"/>
      <path d="M320.9 39.2L325.9 44.3M313.7 34.7H319.5"/>
      <circle cx="346.7" cy="34.8" r="5.8"/>
      <path d="M351 39.2L356 44.3M343.8 34.7H349.6M346.7 31.8V37.6"/>
      <path d="M372.3 37H385.8M379 30.4V43.8" stroke="#77848c" stroke-width="1.5"/>
    </g>
    <g fill="#77848c">
      <path d="M379 28.9L376.6 31.9H381.4Z M379 45.2L376.6 42.2H381.4Z M370.8 37L373.8 34.6V39.4Z M387.3 37L384.3 34.6V39.4Z"/>
    </g>
    <path d="M299.7 44.9V47.9H296.2Z M390.9 44.9V47.9H387.4Z" fill="#111"/>
  </svg>
</div>
</body>
</html>
